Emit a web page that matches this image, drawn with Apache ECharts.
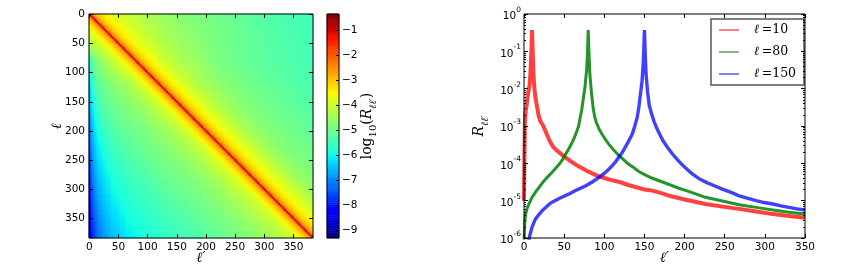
<!DOCTYPE html>
<html><head><meta charset="utf-8">
<script src="https://cdn.jsdelivr.net/npm/echarts@6/dist/echarts.min.js"></script>
<style>html,body{margin:0;padding:0;background:#fff;}#c{width:843px;height:275px;}</style>
</head><body><div id="c"></div>
<script>
// ================= DATA =================
// Left panel: coupling matrix log10(R_ll'), l and l' = 0..383
const ellMax = 383;
const ellTicks = [0, 50, 100, 150, 200, 250, 300, 350];
// background field: log10 R read at row (l) nodes x column (l') nodes
const bgRowNodes = [0, 40, 80, 120, 160, 200, 240, 280, 320, 360, 383];
const bgColNodes = [0, 4, 12, 24, 40, 64, 96, 128, 160, 192, 224, 256, 288, 320, 352, 383];
const bgLog10 = [
  [-3.0, -3.0, -3.0, -3.3, -3.75, -4.05, -4.35, -4.55, -4.73, -4.88, -5.02, -5.15, -5.27, -5.37, -5.46, -5.52],
  [-5.6, -4.7, -4.2, -3.5, -3.0, -3.45, -4.0, -4.35, -4.57, -4.75, -4.92, -5.06, -5.18, -5.3, -5.4, -5.48],
  [-6.2, -5.2, -4.85, -4.5, -4.1, -3.4, -3.3, -4.0, -4.38, -4.62, -4.9, -5.05, -5.17, -5.28, -5.37, -5.44],
  [-6.7, -5.8, -5.3, -5.0, -4.75, -4.45, -3.8, -3.5, -3.85, -4.35, -4.65, -4.88, -5.05, -5.18, -5.3, -5.38],
  [-7.1, -6.3, -5.7, -5.3, -5.05, -4.8, -4.5, -3.9, -3.5, -3.75, -4.3, -4.65, -4.88, -5.04, -5.17, -5.27],
  [-7.5, -6.7, -6.05, -5.65, -5.35, -5.1, -4.85, -4.55, -4.1, -3.5, -3.6, -4.2, -4.6, -4.85, -5.03, -5.15],
  [-7.9, -7.0, -6.35, -5.95, -5.65, -5.35, -5.1, -4.85, -4.6, -4.2, -3.5, -3.4, -4.1, -4.55, -4.82, -5.0],
  [-8.3, -7.3, -6.65, -6.25, -5.9, -5.6, -5.35, -5.1, -4.9, -4.65, -4.3, -3.7, -3.5, -3.95, -4.45, -4.75],
  [-8.7, -7.6, -6.95, -6.5, -6.15, -5.85, -5.6, -5.35, -5.15, -4.95, -4.7, -4.35, -3.9, -3.5, -3.8, -4.35],
  [-9.1, -7.9, -7.25, -6.75, -6.4, -6.05, -5.8, -5.6, -5.4, -5.2, -4.98, -4.75, -4.45, -4.1, -3.5, -3.5],
  [-9.3, -8.1, -7.4, -6.9, -6.55, -6.2, -5.9, -5.7, -5.5, -5.3, -5.1, -4.9, -4.65, -4.35, -3.9, -3.5]
];
// diagonal band: log10 R read against the offset d = l' - l
const bandOffsets = [-120, -100, -60, -40, -28, -20, -14, -10, -8, -6, -4, -2, 0, 2, 4, 6, 8, 10, 14, 20, 28, 40, 60, 80, 120];
const bandLog10   = [-9.0, -7.0, -4.6, -4.05, -3.75, -3.45, -3.15, -2.95, -2.8, -2.6, -2.3, -1.75, -0.42, -1.7, -2.25, -2.55, -2.75, -2.9, -3.1, -3.3, -3.55, -3.8, -4.2, -4.6, -6.5];
// colour bar
const cbarMin = -9.32, cbarMax = -0.37;
const cbarTicks = [-1, -2, -3, -4, -5, -6, -7, -8, -9];

// Right panel: rows R_{l l'} for l = 10, 80, 150 (log10 values)
const xTicksRight = [0, 50, 100, 150, 200, 250, 300, 350];
const redEll = [0,1,2,3,4,5,6,7,8,9,10,11,12,13,14,16,18,20,24,28,32,36,41,49,57,68,78,88,98,109,119,130,140,150,160,171,181,200,226,247,268,289,310,330,350];
const redLog10 = [-5.0,-2.95,-2.6,-2.5,-2.3,-2.14,-2.1,-1.9,-1.6,-1.1,-0.43,-1.1,-1.7,-2.0,-2.2,-2.45,-2.7,-2.85,-3.0,-3.2,-3.4,-3.55,-3.66,-3.8,-3.93,-4.08,-4.2,-4.3,-4.38,-4.45,-4.5,-4.58,-4.64,-4.7,-4.73,-4.8,-4.87,-4.97,-5.09,-5.16,-5.22,-5.29,-5.36,-5.41,-5.46];
const greenEll = [0,1,2,4,6,10,15,19,23,27,31,35,40,44,48,52,56,60,63,66,68,70,72,74,76,78,79,80,81,82,84,86,88,90,94,98,102,106,112,118,124,130,137,143,152,160,170,180,192,205,226,247,268,289,310,330,350];
const greenLog10 = [-6.1,-5.6,-5.36,-5.2,-5.09,-4.91,-4.75,-4.64,-4.52,-4.42,-4.33,-4.24,-4.12,-4.02,-3.9,-3.75,-3.6,-3.44,-3.3,-3.13,-3.0,-2.77,-2.55,-2.25,-1.95,-1.5,-1.1,-0.43,-1.1,-1.6,-2.1,-2.5,-2.75,-2.9,-3.1,-3.25,-3.38,-3.5,-3.65,-3.79,-3.9,-4.02,-4.12,-4.22,-4.32,-4.4,-4.48,-4.56,-4.66,-4.75,-4.91,-5.01,-5.11,-5.18,-5.25,-5.31,-5.36];
const blueEll = [4,7,10,14,19,23,27,31,35,45,56,66,77,85,93,100,105,110,114,118,122,126,130,135,138,141,143,145,147,148,149,150,151,152,154,156,159,162,165,169,173,179,185,191,198,204,210,218,227,237,247,258,268,279,289,299,310,320,330,340,350];
const blueLog10 = [-6.3,-5.95,-5.71,-5.5,-5.36,-5.26,-5.18,-5.1,-5.04,-4.93,-4.82,-4.71,-4.6,-4.5,-4.38,-4.27,-4.17,-4.06,-3.96,-3.84,-3.72,-3.57,-3.42,-3.21,-3.0,-2.77,-2.5,-2.15,-1.8,-1.5,-1.1,-0.43,-1.1,-1.6,-2.1,-2.45,-2.68,-2.88,-3.04,-3.22,-3.39,-3.58,-3.75,-3.9,-4.06,-4.18,-4.29,-4.41,-4.51,-4.6,-4.69,-4.78,-4.87,-4.94,-5.0,-5.05,-5.09,-5.14,-5.18,-5.22,-5.25];
const seriesNames = ['ℓ=10', 'ℓ=80', 'ℓ=150'];
const logMajor = [1e-6, 1e-5, 1e-4, 1e-3, 1e-2, 1e-1, 1];

// ================= BUILD =================
function seg(nodes, v) {
  let i = 0;
  while (i < nodes.length - 2 && v > nodes[i + 1]) i++;
  let f = (v - nodes[i]) / (nodes[i + 1] - nodes[i]);
  return [i, Math.max(0, Math.min(1, f))];
}
function bgAt(l, lp) {
  const [i, fi] = seg(bgRowNodes, l), [j, fj] = seg(bgColNodes, lp);
  const a = bgLog10[i][j], b = bgLog10[i][j + 1], c = bgLog10[i + 1][j], d = bgLog10[i + 1][j + 1];
  return (a * (1 - fj) + b * fj) * (1 - fi) + (c * (1 - fj) + d * fj) * fi;
}
function bandAt(d) {
  if (d <= bandOffsets[0] || d >= bandOffsets[bandOffsets.length - 1]) return -99;
  const [i, f] = seg(bandOffsets, d);
  return bandLog10[i] * (1 - f) + bandLog10[i + 1] * f;
}
const STEP = 2, NC = 192;
const cats = [];
for (let k = 0; k < NC; k++) cats.push(String(k * STEP));
const cells = [];
for (let i = 0; i < NC; i++) {
  const l = i * STEP + 0.5;
  for (let j = 0; j < NC; j++) {
    const lp = j * STEP + 0.5;
    cells.push([j, i, Math.max(bgAt(l, lp), bandAt(lp - l))]);
  }
}
const NL = 120, cbCats = [], cbCells = [];
for (let k = 0; k < NL; k++) {
  cbCats.push(String(k));
  cbCells.push([0, k, cbarMin + (k + 0.5) * (cbarMax - cbarMin) / NL]);
}
function jet(t) {
  const cl = x => Math.round(255 * Math.max(0, Math.min(1, x)));
  const r = t < 0.35 ? 0 : t < 0.66 ? (t - 0.35) / 0.31 : t < 0.89 ? 1 : 1 - 0.5 * (t - 0.89) / 0.11;
  const g = t < 0.125 ? 0 : t < 0.375 ? (t - 0.125) / 0.25 : t < 0.64 ? 1 : t < 0.91 ? 1 - (t - 0.64) / 0.27 : 0;
  const b = t < 0.11 ? 0.5 + 0.5 * t / 0.11 : t < 0.34 ? 1 : t < 0.65 ? 1 - (t - 0.34) / 0.31 : 0;
  return 'rgb(' + cl(r) + ',' + cl(g) + ',' + cl(b) + ')';
}
const jetStops = [];
for (let i = 0; i <= 64; i++) jetStops.push(jet(i / 64));

const minorLog = [];
for (let e = -6; e < 0; e++) for (let m = 2; m <= 9; m++) minorLog.push(m * Math.pow(10, e));

const FONT = 'DejaVu Sans';
const tickLbl = { fontSize: 10.5, fontFamily: FONT, color: '#000' };
const blackTick = (len, vals) => ({ show: true, inside: true, length: len, customValues: vals, lineStyle: { color: '#000', width: 1 } });
const noLine = { show: false, onZero: false };
const minus = v => (v < 0 ? '\u2212' + (-v) : String(v));
const mathRich = {
  i: { fontFamily: 'DejaVu Serif', fontStyle: 'italic', fontSize: 14, color: '#000' },
  s: { fontFamily: 'DejaVu Serif', fontStyle: 'italic', fontSize: 10, color: '#000', verticalAlign: 'bottom', lineHeight: 22 },
  n: { fontFamily: 'DejaVu Serif', fontSize: 14, color: '#000' },
  ns: { fontFamily: 'DejaVu Serif', fontSize: 10, color: '#000', verticalAlign: 'bottom', lineHeight: 22 }
};

const toPairs = (xs, ys) => xs.map((x, i) => [x, Math.pow(10, ys[i])]);

const option = {
  animation: false,
  backgroundColor: '#fff',
  grid: [
    { left: 89, top: 14, width: 224, height: 224, show: true, borderColor: '#000', borderWidth: 1, backgroundColor: 'transparent', z: 5, outerBoundsMode: 'none' },
    { left: 327, top: 14, width: 12, height: 224, show: true, borderColor: '#000', borderWidth: 1, backgroundColor: 'transparent', z: 5, outerBoundsMode: 'none' },
    { left: 524, top: 14, width: 281, height: 224, show: true, borderColor: '#000', borderWidth: 1, backgroundColor: 'transparent', z: 5, outerBoundsMode: 'none' }
  ],
  visualMap: { type: 'continuous', show: false, min: cbarMin, max: cbarMax, seriesIndex: [0, 1], dimension: 2, inRange: { color: jetStops } },
  legend: {
    orient: 'vertical', left: 711, top: 19, padding: [4, 8, 4, 8], itemGap: 8,
    itemWidth: 20, itemHeight: 2, icon: 'rect',
    borderColor: '#555', borderWidth: 1.5, backgroundColor: '#fff',
    data: [
      { name: seriesNames[0], itemStyle: { color: 'rgba(255,0,0,0.5)' } },
      { name: seriesNames[1], itemStyle: { color: 'rgba(0,128,0,0.5)' } },
      { name: seriesNames[2], itemStyle: { color: 'rgba(0,0,255,0.5)' } }
    ],
    formatter: name => '{sp| }{i|ℓ}{n|\u2009=' + name.split('=')[1] + '}',
    textStyle: {
      lineHeight: 14,
      rich: {
        sp: { width: 10, fontSize: 12 },
        i: { fontFamily: 'DejaVu Serif', fontStyle: 'italic', fontSize: 12.5, color: '#000' },
        n: { fontFamily: 'DejaVu Serif', fontSize: 12.5, color: '#000' }
      }
    }
  },
  xAxis: [
    { type: 'category', gridIndex: 0, data: cats, show: false, position: 'top' },
    { type: 'value', gridIndex: 0, position: 'bottom', min: -0.5, max: ellMax + 0.5, z: 10,
      axisLine: noLine, splitLine: { show: false }, axisTick: blackTick(4, ellTicks),
      axisLabel: Object.assign({ customValues: ellTicks, margin: 4 }, tickLbl),
      name: '{i|ℓ′}', nameLocation: 'middle', nameGap: 13, nameMoveOverlap: false, nameTextStyle: { rich: mathRich } },
    { type: 'value', gridIndex: 0, position: 'top', min: -0.5, max: ellMax + 0.5, z: 10,
      axisLine: noLine, splitLine: { show: false }, axisTick: blackTick(4, ellTicks), axisLabel: { show: false } },
    { type: 'category', gridIndex: 1, data: ['c'], show: false },
    { type: 'value', gridIndex: 2, position: 'bottom', min: 0, max: 350, interval: 50, z: 10,
      axisLine: noLine, splitLine: { show: false }, axisTick: blackTick(4, xTicksRight),
      axisLabel: Object.assign({ customValues: xTicksRight, margin: 4 }, tickLbl),
      name: '{i|ℓ′}', nameLocation: 'middle', nameGap: 13, nameMoveOverlap: false, nameTextStyle: { rich: mathRich } },
    { type: 'value', gridIndex: 2, position: 'top', min: 0, max: 350, interval: 50, z: 10,
      axisLine: noLine, splitLine: { show: false }, axisTick: blackTick(4, xTicksRight), axisLabel: { show: false } }
  ],
  yAxis: [
    { type: 'category', gridIndex: 0, data: cats, inverse: true, show: false },
    { type: 'value', gridIndex: 0, position: 'left', inverse: true, min: -0.5, max: ellMax + 0.5, z: 10,
      axisLine: noLine, splitLine: { show: false }, axisTick: blackTick(4, ellTicks),
      axisLabel: Object.assign({ customValues: ellTicks, margin: 4 }, tickLbl),
      name: '{i|ℓ}', nameLocation: 'middle', nameGap: 25, nameRotate: 90, nameMoveOverlap: false, nameTextStyle: { rich: mathRich } },
    { type: 'value', gridIndex: 0, position: 'right', inverse: true, min: -0.5, max: ellMax + 0.5, z: 10,
      axisLine: noLine, splitLine: { show: false }, axisTick: blackTick(4, ellTicks), axisLabel: { show: false } },
    { type: 'category', gridIndex: 1, data: cbCats, show: false },
    { type: 'value', gridIndex: 1, position: 'right', min: cbarMin, max: cbarMax, z: 10,
      axisLine: noLine, splitLine: { show: false }, axisTick: blackTick(3, cbarTicks),
      axisLabel: Object.assign({ customValues: cbarTicks, margin: 3, formatter: v => minus(Math.round(v)) }, tickLbl),
      name: '{n|log}{ns|10}{n|(}{i|R}{s|ℓℓ′}{n|)}', nameLocation: 'middle', nameGap: 17, nameRotate: 90, nameMoveOverlap: false, nameTextStyle: { rich: mathRich } },
    { type: 'log', logBase: 10, gridIndex: 2, position: 'left', min: 1e-6, max: 1, z: 10,
      axisLine: noLine, splitLine: { show: false }, minorTick: { show: false }, axisTick: blackTick(4, logMajor),
      axisLabel: { customValues: logMajor, margin: 3,
        formatter: v => { const e = Math.round(Math.log10(v)); return '{b|10}{e|' + (e < 0 ? '-' + (-e) : e) + '}'; },
        rich: { b: { fontSize: 10.5, fontFamily: FONT, color: '#000', verticalAlign: 'bottom', lineHeight: 16 },
                e: { fontSize: 7.5, fontFamily: FONT, color: '#000', verticalAlign: 'top', lineHeight: 10 } } },
      name: '{i|R}{s|ℓℓ′}', nameLocation: 'middle', nameGap: 34, nameRotate: 90, nameMoveOverlap: false, nameTextStyle: { rich: mathRich } },
    { type: 'log', logBase: 10, gridIndex: 2, position: 'right', min: 1e-6, max: 1, z: 10,
      axisLine: noLine, splitLine: { show: false }, axisTick: blackTick(4, logMajor), axisLabel: { show: false } },
    { type: 'log', logBase: 10, gridIndex: 2, position: 'left', min: 1e-6, max: 1, z: 10,
      axisLine: noLine, splitLine: { show: false }, axisTick: blackTick(2, minorLog), axisLabel: { show: false } },
    { type: 'log', logBase: 10, gridIndex: 2, position: 'right', min: 1e-6, max: 1, z: 10,
      axisLine: noLine, splitLine: { show: false }, axisTick: blackTick(2, minorLog), axisLabel: { show: false } }
  ],
  series: [
    { type: 'heatmap', xAxisIndex: 0, yAxisIndex: 0, data: cells, progressive: 0, emphasis: { disabled: true }, silent: true },
    { type: 'heatmap', xAxisIndex: 3, yAxisIndex: 3, data: cbCells, progressive: 0, emphasis: { disabled: true }, silent: true },
    { type: 'line', name: seriesNames[0], xAxisIndex: 4, yAxisIndex: 5, data: toPairs(redEll, redLog10), showSymbol: false, symbol: 'none',
      lineStyle: { color: '#ff0000', width: 4, opacity: 0.75, join: 'miter' }, itemStyle: { color: '#ff0000' }, z: 3, clip: true },
    { type: 'line', name: seriesNames[1], xAxisIndex: 4, yAxisIndex: 5, data: toPairs(greenEll, greenLog10), showSymbol: false, symbol: 'none',
      lineStyle: { color: '#008000', width: 3, opacity: 0.85, join: 'miter' }, itemStyle: { color: '#008000' }, z: 3, clip: true },
    { type: 'line', name: seriesNames[2], xAxisIndex: 4, yAxisIndex: 5, data: toPairs(blueEll, blueLog10), showSymbol: false, symbol: 'none',
      lineStyle: { color: '#0000ff', width: 3.4, opacity: 0.75, join: 'miter' }, itemStyle: { color: '#0000ff' }, z: 3, clip: true }
  ]
};
const chart = echarts.init(document.getElementById('c'), null, { renderer: 'canvas' });
chart.setOption(option);
</script>
</body></html>
